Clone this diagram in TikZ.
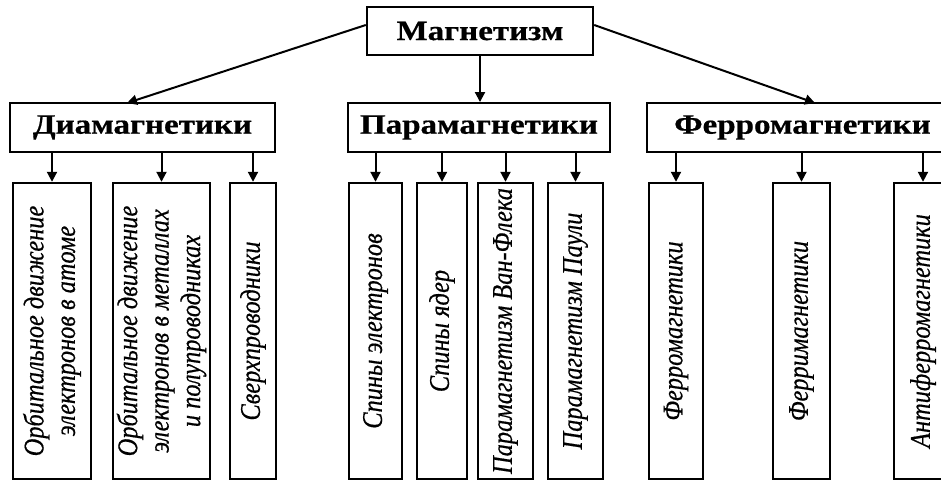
\documentclass[tikz,border=0pt]{standalone}
\usepackage{fontspec}
\setmainfont{Liberation Serif}
\usetikzlibrary{arrows.meta}
% wide bold face for the class titles, narrow tall italic for the leaves
\newfontfamily\headfont[FakeStretch=1.18,FakeBold=0.6]{Liberation Serif}
\newfontfamily\leaffont[FakeStretch=0.855,FakeBold=0.5]{Liberation Serif}
\begin{document}
\begin{tikzpicture}[x=1pt,y=-1pt,
  box/.style={draw=black,line width=2.4pt,fill=white,inner sep=0pt,minimum width=#1},
  headbox/.style={box=#1,minimum height=48.5pt,font=\headfont\bfseries\fontsize{28}{30}\selectfont},
  leafbox/.style={box=#1,minimum height=296pt},
  leaftext/.style={rotate=90,align=center,inner sep=0pt,font=\leaffont\itshape\fontsize{28.5}{31.5}\selectfont},
  link/.style={line width=2pt,-{Triangle[width=10pt,length=10pt]}}]
\useasboundingbox (0,0) rectangle (941,481);
\clip (0,0) rectangle (941,481);
\fill[white] (0,0) rectangle (941,481);

% root and the three classes
\node[headbox=226pt] (root) at (480,31) {Магнетизм};
\node[headbox=265pt] (dia) at (142.5,127.5) {Диамагнетики};
\node[headbox=262pt] (para) at (479,127.5) {Парамагнетики};
\node[headbox=311pt] (ferro) at (802.5,127.5) {Ферромагнетики};

\coordinate (diaend) at (127,103);
\coordinate (ferroend) at (815,103);
\draw[link] ([yshift=6pt]root.west) -- (diaend);
\draw[link] ([yshift=6pt]root.east) -- (ferroend);
\draw[link] (root.south) -- (root.south |- para.north);

% diamagnetics
\node[leafbox=78pt] (d1) at (52,331) {};
\node[leafbox=97pt] (d2) at (161.5,331) {};
\node[leafbox=46pt] (d3) at (253,331) {};
\node[leaftext] (d1t) at (d1) {Орбитальное движение\\электронов в атоме};
\node[leaftext] (d2t) at (d2) {Орбитальное движение\\электронов в металлах\\и полупроводниках};
\node[leaftext] (d3t) at (d3) {Сверхпроводники};

% paramagnetics
\node[leafbox=53pt] (p1) at (375.5,331) {};
\node[leafbox=50pt] (p2) at (442,331) {};
\node[leafbox=55pt] (p3) at (505.5,331) {};
\node[leafbox=55pt] (p4) at (575.5,331) {};
\node[leaftext] (p1t) at (p1) {Спины электронов};
\node[leaftext] (p2t) at (p2) {Спины ядер};
\node[leaftext] (p3t) at (p3) {Парамагнетизм Ван-Флека};
\node[leaftext] (p4t) at (p4) {Парамагнетизм Паули};

% ferromagnetics
\node[leafbox=54pt] (f1) at (676,331) {};
\node[leafbox=57pt] (f2) at (801.5,331) {};
\node[leafbox=58pt] (f3) at (923,331) {};
\node[leaftext] (f1t) at (f1) {Ферромагнетики};
\node[leaftext] (f2t) at (f2) {Ферримагнетики};
\node[leaftext] (f3t) at (f3) {Антиферромагнетики};

\foreach \c in {d1,d2,d3} \draw[link] (dia.south -| \c.north) -- (\c.north);
\foreach \c in {p1,p2,p3,p4} \draw[link] (para.south -| \c.north) -- (\c.north);
\foreach \c in {f1,f2,f3} \draw[link] (ferro.south -| \c.north) -- (\c.north);
\end{tikzpicture}
\end{document}
